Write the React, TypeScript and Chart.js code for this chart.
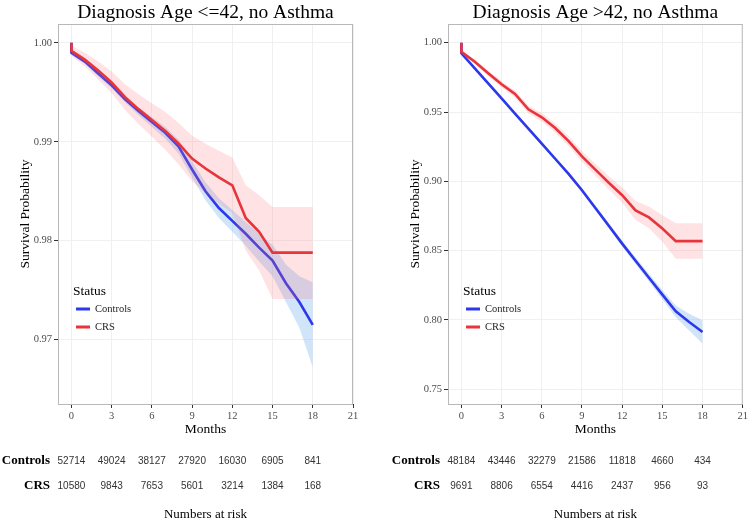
import React, { useEffect, useRef } from "react";
import { Chart, registerables } from "chart.js";

Chart.register(...registerables);

// ---------- shared ----------
const X_TICKS = [0, 3, 6, 9, 12, 15, 18, 21];
const RISK_MONTHS = [0, 3, 6, 9, 12, 15, 18];
const GROUPS = ["Controls", "CRS"];

// ---------- left panel: Diagnosis Age <=42 ----------
const L_TITLE = "Diagnosis Age <=42, no Asthma";
const L_Y_TICKS = [0.97, 0.98, 0.99, 1.0];

const L_CTRL_T = [0, 0, 1, 2, 3, 4, 5, 6, 7, 8, 9, 10, 11, 12, 13, 14, 15, 16, 17, 18];
const L_CTRL_S = [1.0, 0.999, 0.9981, 0.9969, 0.9957, 0.9943, 0.9931, 0.992, 0.9909, 0.9895, 0.9872, 0.985, 0.9833, 0.982, 0.9807, 0.9793, 0.978, 0.9757, 0.9738, 0.9715];
const L_CTRL_LO = [1.0, 0.9988, 0.9979, 0.9966, 0.9954, 0.994, 0.9927, 0.9915, 0.9903, 0.9888, 0.9864, 0.9841, 0.9823, 0.9809, 0.9795, 0.9779, 0.9764, 0.9738, 0.9712, 0.9672];
const L_CTRL_HI = [1.0, 0.9992, 0.9983, 0.9972, 0.996, 0.9946, 0.9935, 0.9925, 0.9915, 0.9902, 0.988, 0.9859, 0.9843, 0.9831, 0.9819, 0.9807, 0.9796, 0.9776, 0.9764, 0.9758];

const L_CRS_T = [0, 0, 1, 2, 3, 4, 5, 6, 7, 8, 9, 10, 11, 12, 13, 14, 15, 18];
const L_CRS_S = [1.0, 0.9992, 0.9983, 0.9972, 0.996, 0.9945, 0.9933, 0.9922, 0.9911, 0.9898, 0.9883, 0.9873, 0.9864, 0.9856, 0.9823, 0.9809, 0.9788, 0.9788];
const L_CRS_HI = [1.0, 0.9997, 0.999, 0.9981, 0.9971, 0.9958, 0.9948, 0.9939, 0.993, 0.9919, 0.9906, 0.9898, 0.9891, 0.9884, 0.9856, 0.9846, 0.9834, 0.9834];
const L_CRS_LO = [1.0, 0.9987, 0.9976, 0.9963, 0.9949, 0.9932, 0.9918, 0.9905, 0.9892, 0.9877, 0.986, 0.9848, 0.9837, 0.9828, 0.979, 0.977, 0.9741, 0.9741];

const L_RISK_CTRL = [52714, 49024, 38127, 27920, 16030, 6905, 841];
const L_RISK_CRS = [10580, 9843, 7653, 5601, 3214, 1384, 168];

// ---------- right panel: Diagnosis Age >42 ----------
const R_TITLE = "Diagnosis Age >42, no Asthma";
const R_Y_TICKS = [0.75, 0.8, 0.85, 0.9, 0.95, 1.0];

const R_CTRL_T = [0, 0, 1, 2, 3, 4, 5, 6, 7, 8, 9, 10, 11, 12, 13, 14, 15, 16, 17, 18];
const R_CTRL_S = [1.0, 0.9924, 0.9815, 0.9706, 0.9598, 0.9489, 0.938, 0.9272, 0.9163, 0.9054, 0.8936, 0.8808, 0.868, 0.8551, 0.8427, 0.8305, 0.8183, 0.8062, 0.7985, 0.7913];
const R_CTRL_HI = [1.0, 0.9928, 0.9821, 0.9713, 0.9606, 0.9498, 0.939, 0.9283, 0.9175, 0.9067, 0.8951, 0.8825, 0.8699, 0.8572, 0.8451, 0.8333, 0.8217, 0.8105, 0.8045, 0.7998];
const R_CTRL_LO = [1.0, 0.992, 0.9809, 0.9699, 0.959, 0.948, 0.937, 0.9261, 0.9151, 0.9041, 0.8921, 0.8791, 0.8661, 0.853, 0.8403, 0.8277, 0.8149, 0.8019, 0.7925, 0.7828];

const R_CRS_T = [0, 0, 1, 2, 3, 4, 5, 6, 7, 8, 9, 10, 11, 12, 13, 14, 15, 16, 18];
const R_CRS_S = [1.0, 0.9935, 0.9863, 0.978, 0.97, 0.963, 0.952, 0.9462, 0.9385, 0.929, 0.918, 0.9085, 0.899, 0.89, 0.879, 0.874, 0.866, 0.8569, 0.8569];
const R_CRS_HI = [1.0, 0.9945, 0.9878, 0.98, 0.9722, 0.9655, 0.9548, 0.9492, 0.9417, 0.9325, 0.9218, 0.9127, 0.9037, 0.8955, 0.8858, 0.8818, 0.8755, 0.8697, 0.8697];
const R_CRS_LO = [1.0, 0.9925, 0.9848, 0.976, 0.9678, 0.9605, 0.9492, 0.9432, 0.9353, 0.9255, 0.9142, 0.9043, 0.8943, 0.8845, 0.8722, 0.8662, 0.8565, 0.8441, 0.8441];

const R_RISK_CTRL = [48184, 43446, 32279, 21586, 11818, 4660, 434];
const R_RISK_CRS = [9691, 8806, 6554, 4416, 2437, 956, 93];

// ---------- styles ----------
const SERIF = "'Liberation Serif', 'Times New Roman', serif";
const SANS = "'Liberation Sans', Arial, sans-serif";
const BLUE = "rgb(45,55,235)";
const RED = "rgb(232,52,58)";
const BLUE_FILL = "rgba(120,180,240,0.35)";
const RED_FILL = "rgba(250,110,120,0.2)";

type PanelProps = {
  left: number;
  title: string;
  yTicks: number[];
  yMin: number;
  yMax: number;
  yAxisWidth: number;
  padRight: number;
  ctrlT: number[]; ctrlS: number[]; ctrlLo: number[]; ctrlHi: number[];
  crsT: number[]; crsS: number[]; crsLo: number[]; crsHi: number[];
  riskCtrl: number[]; riskCrs: number[];
};

const pts = (t: number[], s: number[]) => t.map((x, i) => ({ x, y: s[i] }));

function Panel(p: PanelProps) {
  const ref = useRef<HTMLCanvasElement | null>(null);
  useEffect(() => {
    if (!ref.current) return;
    const textPlugin = {
      id: "kmText",
      afterDraw(chart: any) {
        const ctx = chart.ctx as CanvasRenderingContext2D;
        const a = chart.chartArea;
        const xs = chart.scales.x;
        const cx = (a.left + a.right) / 2;
        ctx.save();
        // panel border
        ctx.strokeStyle = "#b8b8b8";
        ctx.lineWidth = 1;
        ctx.strokeRect(a.left + 0.5, a.top + 0.5, a.right - a.left - 1, a.bottom - a.top);
        // title
        ctx.fillStyle = "#000";
        ctx.textAlign = "center";
        ctx.textBaseline = "alphabetic";
        ctx.font = `19.5px ${SERIF}`;
        ctx.fillText(p.title, cx, 17.5);
        // x title
        ctx.font = `13.5px ${SERIF}`;
        ctx.fillText("Months", cx, 433);
        // y title
        ctx.save();
        ctx.translate(a.left - 33, (a.top + a.bottom) / 2);
        ctx.rotate(-Math.PI / 2);
        ctx.textBaseline = "middle";
        ctx.fillText("Survival Probability", 0, 0);
        ctx.restore();
        // legend
        ctx.textAlign = "left";
        ctx.textBaseline = "alphabetic";
        ctx.font = `13.5px ${SERIF}`;
        ctx.fillText("Status", a.left + 15, 295);
        const rows = [
          { y: 309, c: BLUE, label: GROUPS[0] },
          { y: 327, c: RED, label: GROUPS[1] },
        ];
        rows.forEach((r) => {
          ctx.strokeStyle = r.c;
          ctx.lineWidth = 3;
          ctx.beginPath();
          ctx.moveTo(a.left + 18, r.y);
          ctx.lineTo(a.left + 32, r.y);
          ctx.stroke();
          ctx.fillStyle = "#222";
          ctx.font = `10.5px ${SERIF}`;
          ctx.textBaseline = "middle";
          ctx.fillText(r.label, a.left + 37, r.y + 0.5);
        });
        // risk table
        const tableRows = [
          { y: 461, label: GROUPS[0], vals: p.riskCtrl },
          { y: 486, label: GROUPS[1], vals: p.riskCrs },
        ];
        tableRows.forEach((r) => {
          ctx.fillStyle = "#000";
          ctx.textAlign = "right";
          ctx.textBaseline = "middle";
          ctx.font = `bold 13px ${SERIF}`;
          ctx.fillText(r.label, a.left - 8, r.y);
          ctx.textAlign = "center";
          ctx.font = `10px ${SANS}`;
          ctx.fillStyle = "#333";
          r.vals.forEach((v, i) => {
            ctx.fillText(String(v), xs.getPixelForValue(RISK_MONTHS[i]), r.y + 0.5);
          });
        });
        ctx.fillStyle = "#000";
        ctx.textAlign = "center";
        ctx.textBaseline = "alphabetic";
        ctx.font = `13px ${SERIF}`;
        ctx.fillText("Numbers at risk", cx, 518);
        ctx.restore();
      },
    };

    const lineBase = { pointRadius: 0, tension: 0, fill: false };
    const chart = new Chart(ref.current, {
      type: "line",
      data: {
        datasets: [
          { ...lineBase, data: pts(p.ctrlT, p.ctrlLo), borderWidth: 0, order: 6 },
          { ...lineBase, data: pts(p.ctrlT, p.ctrlHi), borderWidth: 0, fill: "-1", backgroundColor: BLUE_FILL, order: 5 },
          { ...lineBase, data: pts(p.ctrlT, p.ctrlS), borderColor: BLUE, borderWidth: 2.6, order: 4 },
          { ...lineBase, data: pts(p.crsT, p.crsLo), borderWidth: 0, order: 3 },
          { ...lineBase, data: pts(p.crsT, p.crsHi), borderWidth: 0, fill: "-1", backgroundColor: RED_FILL, order: 2 },
          { ...lineBase, data: pts(p.crsT, p.crsS), borderColor: RED, borderWidth: 2.6, order: 1 },
        ] as any,
      },
      options: {
        animation: false,
        responsive: false,
        maintainAspectRatio: false,
        layout: { padding: { left: 0, right: p.padRight, top: 24, bottom: 89 } },
        plugins: { legend: { display: false }, tooltip: { enabled: false }, title: { display: false } },
        scales: {
          x: {
            type: "linear",
            min: -1,
            max: 21,
            afterBuildTicks: (axis: any) => {
              axis.ticks = X_TICKS.map((v) => ({ value: v }));
            },
            afterFit: (s: any) => {
              s.height = 30;
            },
            ticks: {
              autoSkip: false,
              maxRotation: 0,
              padding: 2,
              color: "#4d4d4d",
              font: { family: SERIF, size: 10.5 },
              callback: (v: any) => String(v),
            },
            grid: { color: "#f0f0f0", tickColor: "#333", tickLength: 4, lineWidth: 1 },
            border: { display: false },
          },
          y: {
            type: "linear",
            min: p.yMin,
            max: p.yMax,
            afterBuildTicks: (axis: any) => {
              axis.ticks = p.yTicks.map((v) => ({ value: v }));
            },
            afterFit: (s: any) => {
              s.width = p.yAxisWidth;
            },
            ticks: {
              autoSkip: false,
              padding: 2,
              color: "#4d4d4d",
              font: { family: SERIF, size: 10.5 },
              callback: (v: any) => Number(v).toFixed(2),
            },
            grid: { color: "#f0f0f0", tickColor: "#333", tickLength: 4, lineWidth: 1 },
            border: { display: false },
          },
        },
      } as any,
      plugins: [textPlugin],
    });
    return () => chart.destroy();
  }, []);
  return (
    <div style={{ position: "absolute", left: p.left, top: 0, width: 375, height: 523 }}>
      <canvas ref={ref} width={375} height={523} style={{ width: 375, height: 523, display: "block" }} />
    </div>
  );
}

export default function App() {
  return (
    <div style={{ position: "fixed", left: 0, top: 0, width: 750, height: 523, background: "#fff", overflow: "hidden" }}>
      <Panel
        left={0}
        title={L_TITLE}
        yTicks={L_Y_TICKS}
        yMin={0.9635}
        yMax={1.0019}
        yAxisWidth={58}
        padRight={22}
        ctrlT={L_CTRL_T} ctrlS={L_CTRL_S} ctrlLo={L_CTRL_LO} ctrlHi={L_CTRL_HI}
        crsT={L_CRS_T} crsS={L_CRS_S} crsLo={L_CRS_LO} crsHi={L_CRS_HI}
        riskCtrl={L_RISK_CTRL} riskCrs={L_RISK_CRS}
      />
      <Panel
        left={375}
        title={R_TITLE}
        yTicks={R_Y_TICKS}
        yMin={0.7394}
        yMax={1.0135}
        yAxisWidth={73}
        padRight={7}
        ctrlT={R_CTRL_T} ctrlS={R_CTRL_S} ctrlLo={R_CTRL_LO} ctrlHi={R_CTRL_HI}
        crsT={R_CRS_T} crsS={R_CRS_S} crsLo={R_CRS_LO} crsHi={R_CRS_HI}
        riskCtrl={R_RISK_CTRL} riskCrs={R_RISK_CRS}
      />
    </div>
  );
}
